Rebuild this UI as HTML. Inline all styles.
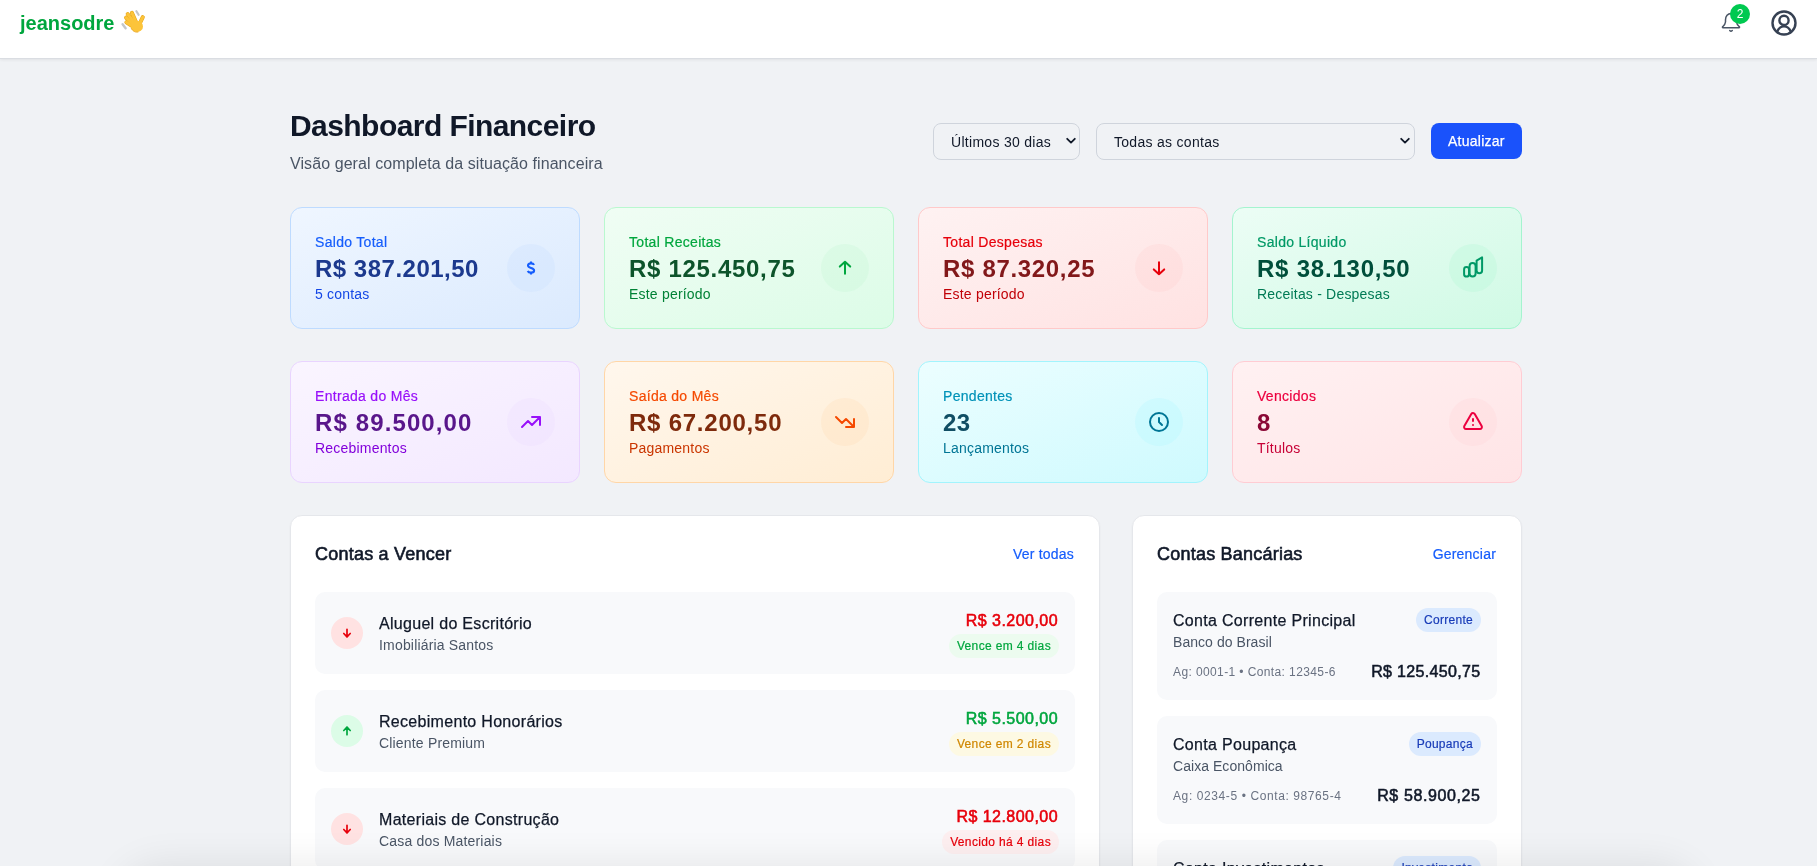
<!DOCTYPE html>
<html lang="pt-BR">
<head>
<meta charset="utf-8">
<title>Dashboard Financeiro</title>
<style>
*{box-sizing:border-box;margin:0;padding:0}
html,body{width:1817px;height:866px;overflow:hidden}
body{background:#f0f2f5;font-family:"Liberation Sans",sans-serif;color:#101828;position:relative}
.abs{position:absolute}
/* header */
.hdr{position:absolute;left:0;top:0;width:1817px;height:59px;background:#fff;border-bottom:1px solid #dadde2;box-shadow:0 1px 3px rgba(0,0,0,.07)}
.logo{position:absolute;left:20px;top:9px;font-size:20px;line-height:28px;font-weight:700;color:#00a63e;letter-spacing:0}
/* title */
.h1{position:absolute;left:290px;top:108px;font-size:30px;line-height:36px;font-weight:700;color:#101828;white-space:nowrap;letter-spacing:-.56px}
.sub{position:absolute;left:290px;top:152px;font-size:16px;line-height:24px;color:#4a5565;white-space:nowrap;letter-spacing:.08px}
.sel{position:absolute;top:123px;height:37px;border:1px solid #cfd4dc;border-radius:8px;font-size:14px;line-height:20px;color:#101828;padding:8px 0 0 17px;white-space:nowrap;letter-spacing:.29px}
.sel svg{position:absolute;top:13.3px}
.btn{-webkit-text-stroke-width:.25px;position:absolute;left:1431px;top:123px;width:91px;height:36px;background:#1a52fb;border-radius:8px;color:#fff;font-size:14px;line-height:20px;padding:8px 0 0 17px;white-space:nowrap;letter-spacing:.25px}
/* stat cards */
.card{position:absolute;width:290px;height:122px;border:1px solid;border-radius:12px;padding:24px}
.card .lb{font-size:14px;line-height:20px;white-space:nowrap;-webkit-text-stroke-width:.2px;letter-spacing:.3px}
.card .vl{font-size:24px;line-height:32px;font-weight:700;white-space:nowrap;letter-spacing:.5px;position:relative;top:1px}
.card .sb{font-size:14px;line-height:20px;white-space:nowrap;letter-spacing:.2px}
.card .ic{position:absolute;right:24px;top:36px;width:48px;height:48px;border-radius:50%;display:flex;align-items:center;justify-content:center}
.card .ic svg{width:24px;height:24px;fill:none;stroke:currentColor;stroke-width:2;stroke-linecap:round;stroke-linejoin:round}
/* panels */
.panel{position:absolute;top:515px;background:#fff;border:1px solid #e5e7eb;border-radius:12px;height:420px;box-shadow:0 1px 2px rgba(0,0,0,.05)}
.ptitle{position:absolute;top:24px;font-size:18px;line-height:28px;font-weight:400;-webkit-text-stroke-width:.6px;color:#101828;white-space:nowrap;letter-spacing:.22px}
.plink{position:absolute;top:28px;-webkit-text-stroke-width:.2px;margin-right:1px;font-size:14px;line-height:20px;color:#155dfc;white-space:nowrap;letter-spacing:.21px}
.item{position:absolute;left:24px;width:760px;height:82px;background:#f8f9fb;border-radius:10px}
.item .circ{position:absolute;left:16px;top:25px;width:32px;height:32px;border-radius:50%;display:flex;align-items:center;justify-content:center}
.item .circ svg{width:16px;height:16px;fill:none;stroke:currentColor;stroke-width:1.7;stroke-linecap:round;stroke-linejoin:round}
.item .t{position:absolute;left:64px;top:20px;-webkit-text-stroke-width:.25px;font-size:16px;line-height:24px;color:#101828;white-space:nowrap;letter-spacing:.3px}
.item .s{position:absolute;left:64px;top:43px;font-size:14px;line-height:20px;color:#4a5565;white-space:nowrap;letter-spacing:.18px}
.item .amt{position:absolute;right:17px;top:17px;font-size:16px;line-height:24px;font-weight:400;-webkit-text-stroke-width:.55px;white-space:nowrap;text-align:right;letter-spacing:.45px}
.item .bd{position:absolute;right:16px;top:42px;height:24px;font-size:12px;line-height:16px;padding:4px 8px;border-radius:12px;white-space:nowrap;letter-spacing:.36px;-webkit-text-stroke-width:.2px}
.bank{position:absolute;left:24px;width:340px;height:108px;background:#f8f9fb;border-radius:10px}
.bank .t{position:absolute;left:16px;top:17px;-webkit-text-stroke-width:.25px;font-size:16px;line-height:24px;color:#101828;white-space:nowrap;letter-spacing:.31px}
.bank .s{position:absolute;left:16px;top:40px;font-size:14px;line-height:20px;color:#4a5565;white-space:nowrap;letter-spacing:.05px}
.bank .ag{position:absolute;left:16px;top:72px;font-size:12px;line-height:16px;color:#6a7282;white-space:nowrap;letter-spacing:.39px}
.bank .bal{position:absolute;right:16.5px;top:68px;font-size:16px;line-height:24px;font-weight:400;-webkit-text-stroke-width:.55px;color:#101828;white-space:nowrap;letter-spacing:.33px}
.bank .bd{position:absolute;right:16px;top:16px;height:24px;font-size:12px;line-height:16px;padding:4px 8px;border-radius:12px;background:#dbeafe;color:#193cb8;white-space:nowrap;-webkit-text-stroke-width:.2px;letter-spacing:.29px}
.fshadow{position:absolute;left:120px;width:1577px;top:872px;height:80px;border-radius:40px;box-shadow:0 -6px 40px rgba(0,0,0,.09);background:#fff}
</style>
</head>
<body><div style="will-change:transform;position:absolute;left:0;top:0;width:1817px;height:866px">

<div class="hdr">
  <div class="logo">jeansodre</div>
  <svg class="abs" style="left:110px;top:0" width="40" height="40" viewBox="0 0 40 40" fill="none" stroke-linecap="round">
    <path d="M26.4 11.2 L28.6 14.8" stroke="#c4c6ca" stroke-width="2.2"/>
    <path d="M12.6 24.2 L15.6 28.2" stroke="#c4c6ca" stroke-width="2.4"/>
    <g stroke="#e6a417" stroke-width="4">
      <path d="M23 26.5 L16.4 22.3"/><path d="M23.5 24.5 L16.1 17.7"/><path d="M24.5 23 L17.7 14.1"/><path d="M26 22 L21.9 12.9"/><path d="M29.5 24 L32.8 17.2"/>
    </g>
    <g stroke="#fcc43a" stroke-width="3">
      <path d="M23 26.5 L16.4 22.3"/><path d="M23.5 24.5 L16.1 17.7"/><path d="M24.5 23 L17.7 14.1"/><path d="M26 22 L21.9 12.9"/><path d="M29.5 24 L32.8 17.2"/>
    </g>
    <ellipse cx="27" cy="26.4" rx="6" ry="5.6" fill="#fcc43a"/>
    <path d="M21.4 28.6 C23 31.6 25.6 32.4 28 32" stroke="#eaa51a" stroke-width="1"/>
  </svg>
  <svg class="abs" style="left:1719px;top:11px" width="24" height="24" viewBox="0 0 24 24" fill="none" stroke="#4a5565" stroke-width="1.5" stroke-linecap="round" stroke-linejoin="round">
    <path d="M3.7 15.7 C4.9 14.6 6.3 13.2 6.5 11 V8.8 C6.5 5.3 8.8 2.4 12 2.4 C15.2 2.4 17.5 5.3 17.5 8.8 V11 C17.7 13.2 19.1 14.6 20.3 15.7 C20.8 16.1 20.6 16.7 20 16.7 H4 C3.4 16.7 3.2 16.1 3.7 15.7 Z"/><path d="M10.7 19.6 Q12 20.9 13.3 19.6" stroke-width="1.4"/>
  </svg>
  <div class="abs" style="left:1730px;top:4px;width:20px;height:20px;border-radius:50%;background:#00c950;color:#fff;font-size:12px;line-height:20px;text-align:center">2</div>
  <svg class="abs" style="left:1770px;top:9px" width="28" height="28" viewBox="0 0 28 28" fill="none" stroke="#364153" stroke-width="2.4" stroke-linecap="round">
    <circle cx="14" cy="14" r="11.5"/>
    <circle cx="14" cy="11.4" r="4.6"/>
    <path d="M7.2 22.6 C8.6 19.4 11 17.4 14 17.4 C17 17.4 19.4 19.4 20.8 22.6"/>
  </svg>
</div>

<div class="h1">Dashboard Financeiro</div>
<div class="sub">Visão geral completa da situação financeira</div>

<div class="sel" style="left:933px;width:147px">Últimos 30 dias
  <svg style="left:132px" width="10" height="8" viewBox="0 0 10 8" fill="none" stroke="#101828" stroke-width="1.8" stroke-linecap="round" stroke-linejoin="round"><path d="M1.2 1.8 L5 5.6 L8.8 1.8"/></svg>
</div>
<div class="sel" style="left:1096px;width:319px">Todas as contas
  <svg style="left:303px" width="10" height="8" viewBox="0 0 10 8" fill="none" stroke="#101828" stroke-width="1.8" stroke-linecap="round" stroke-linejoin="round"><path d="M1.2 1.8 L5 5.6 L8.8 1.8"/></svg>
</div>
<div class="btn">Atualizar</div>

<!-- row 1 -->
<div class="card" style="left:290px;top:207px;background:linear-gradient(to bottom right,#eff6ff,#dbeafe);border-color:#bedbff">
  <div class="lb" style="color:#155dfc">Saldo Total</div>
  <div class="vl" style="color:#1c398e">R$ 387.201,50</div>
  <div class="sb" style="color:#1447e6">5 contas</div>
  <div class="ic" style="background:rgba(190,219,255,.22);color:#155dfc"><svg viewBox="0 0 12 14" style="width:12px;height:14px;stroke-width:2.1;stroke-linecap:butt"><path d="M6 .6V2.4M6 11.6v1.8"/><path d="M9.1 3.9C8.6 2.9 7.5 2.4 6 2.4 4.2 2.4 3 3.2 3 4.5 3 5.9 4.3 6.4 6 6.9 7.8 7.4 9.1 7.9 9.1 9.4 9.1 10.8 7.9 11.6 6 11.6 4.4 11.6 3.2 11 2.7 10"/></svg></div>
</div>
<div class="card" style="left:604px;top:207px;background:linear-gradient(to bottom right,#f0fdf4,#dcfce7);border-color:#b9f8cf">
  <div class="lb" style="color:#00a63e">Total Receitas</div>
  <div class="vl" style="color:#0d542b;letter-spacing:.7px">R$ 125.450,75</div>
  <div class="sb" style="color:#008236">Este período</div>
  <div class="ic" style="background:rgba(185,248,207,.22);color:#00a63e"><svg viewBox="0 0 24 24"><path d="M12 5.7V17.8M6.8 10.6 12 5.7l5.2 4.9"/></svg></div>
</div>
<div class="card" style="left:918px;top:207px;background:linear-gradient(to bottom right,#fef2f2,#ffe2e2);border-color:#ffc9c9">
  <div class="lb" style="color:#e7000b">Total Despesas</div>
  <div class="vl" style="color:#82181a;letter-spacing:.68px">R$ 87.320,25</div>
  <div class="sb" style="color:#c10007">Este período</div>
  <div class="ic" style="background:rgba(255,201,201,.22);color:#e7000b"><svg viewBox="0 0 24 24"><path d="M12 6.2V18.3M6.8 13.4 12 18.3l5.2-4.9"/></svg></div>
</div>
<div class="card" style="left:1232px;top:207px;background:linear-gradient(to bottom right,#ecfdf5,#d0fae5);border-color:#a4f4cf">
  <div class="lb" style="color:#009966">Saldo Líquido</div>
  <div class="vl" style="color:#004f3b;letter-spacing:.78px">R$ 38.130,50</div>
  <div class="sb" style="color:#007a55">Receitas - Despesas</div>
  <div class="ic" style="background:rgba(164,244,207,.22);color:#009966"><svg viewBox="0 0 26 26" style="width:26px;height:26px"><g transform="translate(0.2 -1)"><rect x="3.9" y="13.1" width="4.9" height="9.5" rx="2.4"/><rect x="9.4" y="9" width="6" height="13.6" rx="3"/><path d="M16.4 6.6 L21.9 3.4 V16.5 a2.75 2.75 0 0 1 -5.5 0 Z"/></g></svg></div>
</div>

<!-- row 2 -->
<div class="card" style="left:290px;top:361px;background:linear-gradient(to bottom right,#faf5ff,#f3e8ff);border-color:#e9d4ff">
  <div class="lb" style="color:#9810fa">Entrada do Mês</div>
  <div class="vl" style="color:#59168b;letter-spacing:1.12px">R$ 89.500,00</div>
  <div class="sb" style="color:#8200db">Recebimentos</div>
  <div class="ic" style="background:rgba(233,212,255,.22);color:#9810fa"><svg viewBox="0 0 24 24"><path d="M13 7h8m0 0v8m0-8l-8 8-4-4-6 6"/></svg></div>
</div>
<div class="card" style="left:604px;top:361px;background:linear-gradient(to bottom right,#fff7ed,#ffedd4);border-color:#ffd6a7">
  <div class="lb" style="color:#f54900">Saída do Mês</div>
  <div class="vl" style="color:#7e2a0c;letter-spacing:.76px">R$ 67.200,50</div>
  <div class="sb" style="color:#ca3500">Pagamentos</div>
  <div class="ic" style="background:rgba(255,214,167,.22);color:#f54900"><svg viewBox="0 0 24 24"><path d="M13 17h8m0 0V9m0 8l-8-8-4 4-6-6"/></svg></div>
</div>
<div class="card" style="left:918px;top:361px;background:linear-gradient(to bottom right,#ecfeff,#cefafe);border-color:#a2f4fd">
  <div class="lb" style="color:#0092b8">Pendentes</div>
  <div class="vl" style="color:#104e64">23</div>
  <div class="sb" style="color:#007595">Lançamentos</div>
  <div class="ic" style="background:rgba(162,244,253,.22);color:#007595"><svg viewBox="0 0 24 24"><path d="M12 8v4l3 3m6-3a9 9 0 11-18 0 9 9 0 0118 0z"/></svg></div>
</div>
<div class="card" style="left:1232px;top:361px;background:linear-gradient(to bottom right,#fff1f2,#ffe4e6);border-color:#ffccd3">
  <div class="lb" style="color:#ec003f">Vencidos</div>
  <div class="vl" style="color:#8b0836">8</div>
  <div class="sb" style="color:#c70036">Títulos</div>
  <div class="ic" style="background:rgba(255,204,211,.22);color:#ec003f"><svg viewBox="0 0 24 24"><path d="M12 9v2m0 4h.01m-6.938 4h13.856c1.54 0 2.502-1.667 1.732-3L13.732 4c-.77-1.333-2.694-1.333-3.464 0L3.34 16c-.77 1.333.192 3 1.732 3z"/></svg></div>
</div>

<!-- left panel -->
<div class="panel" style="left:290px;width:810px">
  <div class="ptitle" style="left:24px">Contas a Vencer</div>
  <div class="plink" style="right:24px">Ver todas</div>

  <div class="item" style="top:76px">
    <div class="circ" style="background:#ffe2e2;color:#e7000b"><svg viewBox="0 0 16 16"><path d="M8 4.3V11.9M4.8 8.5 8 11.9l3.2-3.4"/></svg></div>
    <div class="t">Aluguel do Escritório</div>
    <div class="s">Imobiliária Santos</div>
    <div class="amt" style="color:#e7000b">R$ 3.200,00</div>
    <div class="bd" style="background:#ecfbef;color:#00a63e">Vence em 4 dias</div>
  </div>
  <div class="item" style="top:174px">
    <div class="circ" style="background:#dcfce7;color:#00a63e"><svg viewBox="0 0 16 16"><path d="M8 11.7V4.1M4.8 7.5 8 4.1l3.2 3.4"/></svg></div>
    <div class="t">Recebimento Honorários</div>
    <div class="s">Cliente Premium</div>
    <div class="amt" style="color:#00a63e">R$ 5.500,00</div>
    <div class="bd" style="background:#fdf9e3;color:#d08700">Vence em 2 dias</div>
  </div>
  <div class="item" style="top:272px">
    <div class="circ" style="background:#ffe2e2;color:#e7000b"><svg viewBox="0 0 16 16"><path d="M8 4.3V11.9M4.8 8.5 8 11.9l3.2-3.4"/></svg></div>
    <div class="t">Materiais de Construção</div>
    <div class="s">Casa dos Materiais</div>
    <div class="amt" style="color:#e7000b">R$ 12.800,00</div>
    <div class="bd" style="background:#fdeff0;color:#e7000b">Vencido há 4 dias</div>
  </div>
</div>

<!-- right panel -->
<div class="panel" style="left:1132px;width:390px">
  <div class="ptitle" style="left:24px">Contas Bancárias</div>
  <div class="plink" style="right:24px">Gerenciar</div>

  <div class="bank" style="top:76px">
    <div class="t">Conta Corrente Principal</div>
    <div class="s">Banco do Brasil</div>
    <div class="ag">Ag: 0001-1 • Conta: 12345-6</div>
    <div class="bal">R$ 125.450,75</div>
    <div class="bd">Corrente</div>
  </div>
  <div class="bank" style="top:200px">
    <div class="t">Conta Poupança</div>
    <div class="s">Caixa Econômica</div>
    <div class="ag" style="letter-spacing:.6px">Ag: 0234-5 • Conta: 98765-4</div>
    <div class="bal" style="letter-spacing:.6px">R$ 58.900,25</div>
    <div class="bd">Poupança</div>
  </div>
  <div class="bank" style="top:324px">
    <div class="t">Conta Investimentos</div>
    <div class="s">Itaú Unibanco</div>
    <div class="ag">Ag: 1234-5 • Conta: 55555-1</div>
    <div class="bal">R$ 150.000,00</div>
    <div class="bd">Investimento</div>
  </div>
</div>

<div class="fshadow"></div>

</div></body>
</html>
